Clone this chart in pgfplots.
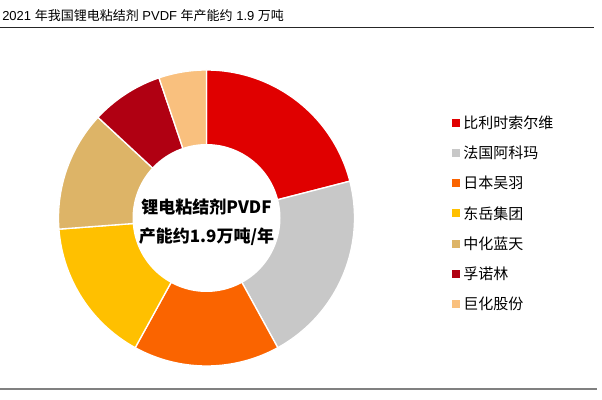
\documentclass[border=0pt]{standalone}
\usepackage{pgfplots}
\pgfplotsset{compat=1.18}
\usepackage{fontspec}
\setmainfont{Liberation Sans}
\newfontfamily\cjk{Noto Sans CJK SC}
\definecolor{c1}{HTML}{E00000}
\definecolor{c2}{HTML}{C8C8C8}
\definecolor{c3}{HTML}{FA6400}
\definecolor{c4}{HTML}{FFC000}
\definecolor{c5}{HTML}{DDB467}
\definecolor{c6}{HTML}{B00012}
\definecolor{c7}{HTML}{F9C07E}
% shares (%)
\def\sA{21.0}\def\sB{21.0}\def\sC{16.0}\def\sD{15.8}\def\sE{13.1}\def\sF{7.9}\def\sG{5.2}
\pgfmathsetmacro\aZ{90}
\pgfmathsetmacro\aA{\aZ-3.6*\sA}
\pgfmathsetmacro\aB{\aA-3.6*\sB}
\pgfmathsetmacro\aC{\aB-3.6*\sC}
\pgfmathsetmacro\aD{\aC-3.6*\sD}
\pgfmathsetmacro\aE{\aD-3.6*\sE}
\pgfmathsetmacro\aF{\aE-3.6*\sF}
\pgfmathsetmacro\aG{\aF-3.6*\sG}
\def\Rout{148}
\def\Rin{74}
\begin{document}
\begin{tikzpicture}[x=0.75pt,y=0.75pt]
\path[use as bounding box] (0,0) rectangle (602,399);
\node[anchor=west, inner sep=0pt, font=\fontsize{9.75}{12}\selectfont] at (2,383) {2021 {\cjk 年我国锂电粘结剂} PVDF {\cjk 年产能约} 1.9 {\cjk 万吨}};
\draw[line width=0.75pt, black!85] (0,371) -- (594,371);
\draw[line width=1.5pt, black!50] (0,10) -- (597,10);
\begin{axis}[at={(206.5,181)}, anchor=origin, x=0.75pt, y=0.75pt,
  xmin=-150, xmax=150, ymin=-150, ymax=150, hide axis, clip=false]
\addplot[fill=c1, draw=white, line width=1pt, domain=\aA:\aZ, samples=60, variable=\t] ({\Rout*cos(\t)},{\Rout*sin(\t)}) -- (axis cs:0,0) -- cycle;
\addplot[fill=c2, draw=white, line width=1pt, domain=\aB:\aA, samples=60, variable=\t] ({\Rout*cos(\t)},{\Rout*sin(\t)}) -- (axis cs:0,0) -- cycle;
\addplot[fill=c3, draw=white, line width=1pt, domain=\aC:\aB, samples=60, variable=\t] ({\Rout*cos(\t)},{\Rout*sin(\t)}) -- (axis cs:0,0) -- cycle;
\addplot[fill=c4, draw=white, line width=1pt, domain=\aD:\aC, samples=60, variable=\t] ({\Rout*cos(\t)},{\Rout*sin(\t)}) -- (axis cs:0,0) -- cycle;
\addplot[fill=c5, draw=white, line width=1pt, domain=\aE:\aD, samples=60, variable=\t] ({\Rout*cos(\t)},{\Rout*sin(\t)}) -- (axis cs:0,0) -- cycle;
\addplot[fill=c6, draw=white, line width=1pt, domain=\aF:\aE, samples=60, variable=\t] ({\Rout*cos(\t)},{\Rout*sin(\t)}) -- (axis cs:0,0) -- cycle;
\addplot[fill=c7, draw=white, line width=1pt, domain=\aG:\aF, samples=60, variable=\t] ({\Rout*cos(\t)},{\Rout*sin(\t)}) -- (axis cs:0,0) -- cycle;
\addplot[fill=white, draw=none, domain=0:360, samples=150, variable=\t] ({\Rin*cos(\t)},{\Rin*sin(\t)}) -- cycle;
\node[align=center, font=\cjk\bfseries\fontsize{12.75}{22}\selectfont] at (axis cs:0,-4) {锂电粘结剂PVDF\\产能约1.9万吨/年};
\end{axis}
\begin{scope}[font=\cjk\fontsize{11.25}{13}\selectfont]
\foreach \c/\t/\y in {c1/比利时索尔维/123, c2/法国阿科玛/153, c3/日本吴羽/183, c4/东岳集团/213.5, c5/中化蓝天/244, c6/孚诺林/274, c7/巨化股份/304}{
  \fill[\c] (452,399-\y-4) rectangle (460,399-\y+4);
  \node[anchor=west, inner sep=0pt] at (463,399-\y) {\t};
}
\end{scope}
\end{tikzpicture}
\end{document}
